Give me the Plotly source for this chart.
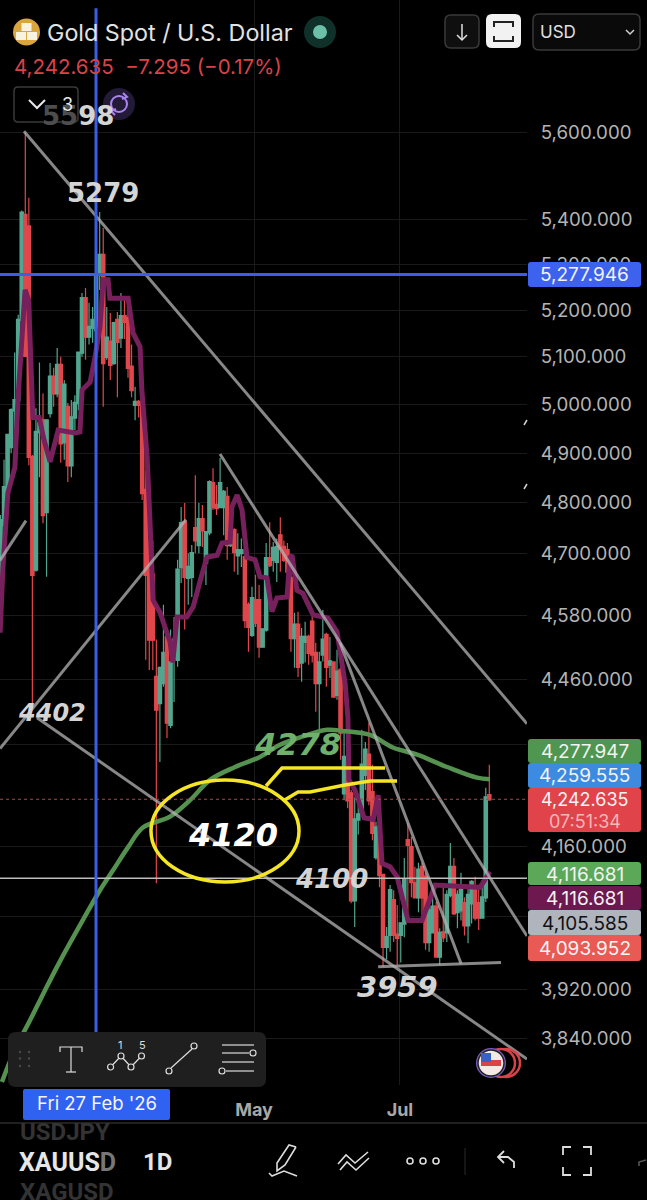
import plotly.graph_objects as go

# ---- chart data (prices) ----
opens = [4668,4755,4825,4912,4988,5009,5179,5410,5384,4892,4668,4943,4967,4781,4982,5058,5023,5083,4922,4995,
 4875,4973,5003,5109,5226,5143,5162,5157,5277,5321,5100,5132,5087,5179,5141,5187,5183,5079,4999,
 5005,4999,4825,4725,4658,4464,4416,4453,4539,4376,4500,4496,4673,4761,4652,4654,4749,4716,4767,4681,
 4741,4839,4795,4791,4791,4811,4716,4745,4696,4700,4692,4600,4543,4609,4609,4521,4553,4690,4687,4683,
 4735,4712,4706,4652,4537,4562,4491,4530,4539,4568,4509,4453,4506,4543,4487,4491,4431,4477,4253,4308,
 4253,4068,4207,4219,4286,4322,4255,4142,4195,4111,3990,4010,4068,4010,4010,4029,4171,4159,4097,4073,
 4125,4108,3998,4014,4057,3974,4014,4014,4077,4125,4048,4051,4063,4026,4063,4089,4063,4039,4073,4250]
highs = [4775,4886,4937,4992,5109,5190,5420,5598,5449,4896,4992,5088,5023,4967,5087,5077,5119,5100,5051,5003,
 5009,5019,5109,5237,5248,5216,5207,5321,5417,5381,5207,5194,5175,5196,5237,5222,5207,5126,5037,
 5009,5005,4865,4745,4725,4534,4483,4600,4543,4553,4577,4687,4791,4799,4700,4716,4855,4799,4795,4741,
 4845,4869,4835,4890,4825,4831,4771,4749,4739,4729,4700,4605,4635,4658,4638,4556,4720,4761,4722,4729,
 4771,4725,4720,4664,4585,4587,4556,4568,4543,4577,4528,4511,4590,4547,4539,4491,4515,4487,4362,4340,
 4259,4246,4245,4367,4345,4380,4304,4203,4250,4111,4023,4094,4085,4060,4029,4140,4201,4177,4125,4132,
 4132,4115,4057,4094,4065,4021,4094,4085,4166,4140,4085,4115,4073,4089,4102,4108,4094,4102,4263,4304]
lows = [4648,4745,4811,4900,4947,4999,5157,5100,4875,4402,4664,4851,4759,4654,4973,4995,5015,4880,4886,4841,
 4851,4947,4988,5100,5094,5126,5130,5126,5244,4995,5094,5051,5083,5015,5119,5138,5056,5015,4967,
 4973,4805,4496,4477,4477,4097,4309,4446,4352,4370,4418,4483,4642,4553,4600,4615,4700,4700,4712,4638,
 4735,4785,4775,4789,4735,4687,4712,4664,4658,4673,4556,4511,4539,4558,4500,4519,4549,4673,4664,4644,
 4664,4683,4644,4511,4481,4464,4455,4491,4487,4491,4400,4367,4493,4446,4462,4426,4422,4313,4241,4227,
 4063,4023,4181,4216,4259,4232,4171,4137,4090,3957,3969,3982,3998,3959,3964,4006,4039,4073,4073,4048,
 4043,3985,3982,4013,3973,3960,3998,3998,4073,4043,4021,4034,4009,3996,4029,4034,4018,4039,4065,4240]
closes = [4765,4831,4937,4988,5009,5179,5415,5102,4892,4658,4943,4961,4775,4967,5058,5023,5083,4920,5041,4875,
 4973,5003,5109,5226,5143,5164,5179,5277,5321,5087,5141,5083,5172,5132,5187,5175,5077,5030,5005,
 4999,4819,4658,4534,4534,4404,4481,4509,4380,4491,4534,4668,4759,4654,4673,4700,4725,4767,4745,4741,
 4841,4791,4789,4839,4821,4716,4745,4702,4706,4706,4571,4558,4613,4566,4521,4553,4690,4677,4710,4712,
 4710,4687,4664,4537,4562,4483,4539,4539,4509,4506,4453,4491,4534,4483,4493,4428,4474,4362,4318,4241,
 4068,4207,4216,4304,4331,4241,4184,4193,4111,3990,4006,4085,4010,4005,4029,4102,4163,4099,4073,4120,
 4073,3998,4051,4057,3974,4013,4006,4077,4125,4046,4077,4089,4026,4077,4099,4039,4039,4073,4246,4242.635]

kijun_x = [-0.1,0.7,2.1,4.1,5,6.1,7,8,9.2,11,12.4,14.1,15.5,16.4,21.2,22.6,23.2,25.5,26.9,28.3,29.2,30.6,31.1,36.3,37.7,
 39.7,40.2,41.7,42.5,43.4,45.4,48.2,49,50.2,53,54.8,56.7,58.7,61.6,63,65.3,65.8,67.3,68.7,70.1,72.4,73.8,75.8,77.2,78.6,
 81.5,82.3,82.9,84.3,86,88.9,93.1,95.7,98,98.8,99.1,100.8,103.4,106,107.4,108.5,110.8,112.8,115.9,119.9,123.6,136.4,139.2]
kijun_y = [4547,4673,4819,4871,5015,5157,5244,5222,4973,4973,4926,4882,4926,4947,4941,4943,5030,5047,5100,5164,5266,5266,5226,5226,5151,
 5121,5030,4892,4765,4609,4585,4530,4491,4577,4577,4596,4644,4692,4696,4720,4722,4791,4815,4785,4692,4687,4654,4652,4587,4613,
 4615,4692,4696,4628,4622,4581,4575,4549,4453,4390,4277,4259,4210,4207,4250,4131,4125,4108,4034,4034,4094,4090,4116.681]

ma_x = [0.4,4.1,8.4,12.7,16.9,22.6,28.3,32,36.3,40.5,48.2,53.9,59.6,66.7,73.8,79.5,86,92.9,97.4,105.1,111.6,118.5,127,135.5,139.2]
ma_y = [3772,3823,3870,3919,3966,4026,4085,4119,4159,4193,4212,4241,4277,4300,4318,4340,4355,4367,4365,4358,4335,4322,4300,4281,4277.947]

# hand drawn trend lines: (x0, x1, price0, price1)
trend_lines = [
    (6.68, 149.74, 5602, 4378),
    (62.43, 149.74, 4898, 4008),
    (96.56, 131.0, 4528, 3962),
    (107.4, 142.35, 3957, 3964),
    (10.38, 149.74, 4389, 3808),
    (-0.14, 52.76, 4333, 4766),
    (-0.14, 7.25, 4686, 4764),
]

y_tick_vals = [5600,5400,5300,5200,5100,5000,4900,4800,4700,4580,4460,4340,4160,4040,3920,3840]
y_tick_text = ["5,600.000","5,400.000","5,300.000","5,200.000","5,100.000","5,000.000","4,900.000","4,800.000",
               "4,700.000","4,580.000","4,460.000","","4,160.000","","3,920.000","3,840.000"]
x_tick_vals = [72.1, 113.6]
x_tick_text = ["May", "Jul"]

BAR_STEP = 1.0074
crosshair_x = 27.16
crosshair_price = 5277.946
last_price = 4242.635
flat_price = 4105.585

price_labels = [
    (739, 763, "4,277.947", "#4f9650", "#f2f2f2"),
    (763, 788, "4,259.555", "#3d8be0", "#f2f2f2"),
    (862, 885, "4,116.681", "#5aa858", "#f2f2f2"),
    (886, 910, "4,116.681", "#6e1850", "#f2f2f2"),
    (910, 935, "4,105.585", "#b0b4bd", "#111111"),
    (935, 961, "4,093.952", "#e95a55", "#f5f5f5"),
    (262, 287, "5,277.946", "#3d63ee", "#f2f2f2"),
]

X_RANGE = [-0.142, 149.74]
Y_RANGE = [3.57601, 3.77204]
W, H = 647, 1200
UI = "Inter, sans-serif"
BOLD = "DejaVu Sans, sans-serif"
UP, DOWN = "#52a58e", "#e0474c"

def px(x): return x / W
def py(y): return 1 - y / H

bar_x = [i * BAR_STEP for i in range(len(opens))]
body_hi = [max(o, c) for o, c in zip(opens, closes)]
body_lo = [min(o, c) for o, c in zip(opens, closes)]

fig = go.Figure()
fig.add_trace(go.Scatter(x=kijun_x, y=kijun_y, mode="lines", line=dict(color="#76205c", width=5), hoverinfo="skip"))
# wicks and thin bodies
fig.add_trace(go.Candlestick(
    x=bar_x, open=opens, high=highs, low=lows, close=closes, whiskerwidth=0,
    increasing=dict(line=dict(color=UP, width=1.2), fillcolor=UP),
    decreasing=dict(line=dict(color=DOWN, width=1.2), fillcolor=DOWN),
))
# same candles without wicks, stroked wider so the bodies reach the reference's width
fig.add_trace(go.Candlestick(
    x=bar_x, open=opens, high=body_hi, low=body_lo, close=closes, whiskerwidth=0,
    increasing=dict(line=dict(color=UP, width=2.4), fillcolor=UP),
    decreasing=dict(line=dict(color=DOWN, width=2.4), fillcolor=DOWN),
))
fig.add_trace(go.Scatter(x=ma_x, y=ma_y, mode="lines", line=dict(color="#56924f", width=4.5, shape="spline"), hoverinfo="skip"))
for x0, x1, p0, p1 in trend_lines:
    fig.add_trace(go.Scatter(x=[x0, x1], y=[p0, p1], mode="lines", line=dict(color="rgba(180,180,180,0.75)", width=3), hoverinfo="skip"))
fig.add_trace(go.Scatter(x=X_RANGE, y=[last_price]*2, mode="lines", line=dict(color="#a8454c", width=1, dash="dot"), hoverinfo="skip"))
fig.add_trace(go.Scatter(x=X_RANGE, y=[flat_price]*2, mode="lines", line=dict(color="#bdbdbd", width=1.5), hoverinfo="skip"))
fig.add_trace(go.Scatter(x=X_RANGE, y=[crosshair_price]*2, mode="lines", line=dict(color="#3a5fe6", width=3), hoverinfo="skip"))
fig.add_trace(go.Scatter(x=[crosshair_x]*2, y=[3768, 5896], mode="lines", line=dict(color="#3a5fe6", width=3), hoverinfo="skip"))

shapes, annos = [], []

def rrect(x0, y0, x1, y1, r=4, fill=None, line=None, lw=1):
    p = (f"M{px(x0+r)},{py(y0)} L{px(x1-r)},{py(y0)} Q{px(x1)},{py(y0)} {px(x1)},{py(y0+r)} "
         f"L{px(x1)},{py(y1-r)} Q{px(x1)},{py(y1)} {px(x1-r)},{py(y1)} L{px(x0+r)},{py(y1)} "
         f"Q{px(x0)},{py(y1)} {px(x0)},{py(y1-r)} L{px(x0)},{py(y0+r)} Q{px(x0)},{py(y0)} {px(x0+r)},{py(y0)} Z")
    shapes.append(dict(type="path", path=p, xref="paper", yref="paper", fillcolor=fill or "rgba(0,0,0,0)",
                       line=dict(color=line or "rgba(0,0,0,0)", width=lw), layer="above"))

def poly(points, color, lw=1.5):
    p = "M" + " L".join(f"{px(x)},{py(y)}" for x, y in points)
    shapes.append(dict(type="path", path=p, xref="paper", yref="paper", line=dict(color=color, width=lw), layer="above"))

def circ(cx, cy, rx, ry=None, fill=None, line=None, lw=1):
    ry = ry or rx
    shapes.append(dict(type="circle", xref="paper", yref="paper", x0=px(cx-rx), x1=px(cx+rx), y0=py(cy+ry), y1=py(cy-ry),
                       fillcolor=fill or "rgba(0,0,0,0)", line=dict(color=line or "rgba(0,0,0,0)", width=lw), layer="above"))

def text(x, y, s, size, color, family=UI, anchor="left"):
    annos.append(dict(x=px(x), y=py(y), xref="paper", yref="paper", text=s, showarrow=False, xanchor=anchor, yanchor="middle",
                      align=anchor, borderpad=0, font=dict(family=family, size=size, color=color)))

# price labels on the right
for y0, y1, s, bg, fg in price_labels:
    rrect(528, y0, 641, y1, r=3, fill=bg)
    text(584.5, (y0 + y1) / 2 + 0.5, s, 19, fg, anchor="center")
rrect(528, 788, 641, 832, r=3, fill="#e0434a")
text(584.5, 799, "4,242.635", 18, "#f5f5f5", anchor="center")
text(584.5, 821, "07:51:34", 18, "#f4b6b8", anchor="center")

# small marks on the right edge of the pane
poly([(524, 425), (527, 420)], "#d0d0d0", 1.5)
poly([(524, 489), (527, 484)], "#d0d0d0", 1.5)

# yellow drawing
circ(225, 831, 74, 51, line="#f4e526", lw=3.5)
poly([(266, 786), (282, 768), (385, 768)], "#f4e526", 3.5)
poly([(283, 801), (298, 792), (310, 792), (345, 785), (370, 781), (397, 781)], "#f4e526", 3.5)

# labels on the drawing
GR = "#d4d4d4"
text(78, 116, '<b><span style="color:#4d4d4d">55</span>98</b>', 26, GR, BOLD, "center")
text(103, 193, "<b>5279</b>", 26, GR, BOLD, "center")
text(52, 713, "<b><i>4402</i></b>", 24, GR, BOLD, "center")
text(297, 744, "<b><i>4278</i></b>", 31, "#6fb06c", BOLD, "center")
text(233, 835, "<b><i>4120</i></b>", 32, "#ffffff", BOLD, "center")
text(331, 879, "<b><i>4100</i></b>", 26, GR, BOLD, "center")
text(397, 987, "<b><i>3959</i></b>", 29, GR, BOLD, "center")

# header
circ(26.5, 32, 13.5, fill="#d9a53c")
for bx, by in [(26.5, 27), (21, 36), (32, 36)]:
    shapes.append(dict(type="rect", xref="paper", yref="paper", x0=px(bx-5), x1=px(bx+5), y0=py(by+4), y1=py(by-4),
                       fillcolor="#f8f2e0", line=dict(width=0), layer="above"))
text(46, 33, "Gold Spot / U.S. Dollar", 23.3, "#e2e2e2")
circ(320, 32, 16, fill="#10302a")
circ(320, 32, 7, fill="#6cc0a8")
text(13, 67, "4,242.635  \u22127.295 (\u22120.17%)", 20.5, "#d8434a")

rrect(445, 15, 479, 48, r=6, fill="#0f0f0f", line="#3a3a3a", lw=1.5)
poly([(462, 24), (462, 40)], "#e0e0e0", 1.5)
poly([(457, 35), (462, 40), (467, 35)], "#e0e0e0", 1.5)
rrect(486, 14, 521, 48, r=6, fill="#f2f2f2")
poly([(494, 27), (494, 22), (513, 22), (513, 27)], "#222222", 2)
poly([(494, 36), (494, 41), (513, 41), (513, 36)], "#222222", 2)
rrect(533, 14, 640, 50, r=6, fill="#0a0a0a", line="#3a3a3a", lw=1.5)
text(539, 32, "USD", 17, "#e0e0e0")
poly([(626, 30), (630, 34), (634, 30)], "#d0d0d0", 1.5)

rrect(14, 87, 78, 122, r=4, line="#3a3a3a", lw=1.5)
poly([(29, 100), (37, 108), (45, 100)], "#e8e8e8", 2)
text(61, 104, "3", 18, "#e8e8e8")
circ(119, 104, 16, fill="#231a38")
circ(119, 104, 8, line="#a884ee", lw=2)
poly([(123, 93), (127, 97), (122, 99)], "#a884ee", 2)
poly([(115, 115), (111, 111), (116, 109)], "#a884ee", 2)

# toolbar
rrect(8, 1032, 266, 1087, r=8, fill="#1f1f1f")
for dx in (20, 29):
    for dy in (1052, 1058.5, 1066):
        circ(dx, dy, 1.2, fill="#4a4a4a")
poly([(60, 1052), (60, 1047), (82, 1047), (82, 1052)], "#dddddd", 1.2)
poly([(71, 1047), (71, 1072)], "#dddddd", 1.2)
poly([(66, 1072), (76, 1072)], "#dddddd", 1.2)
poly([(110.6, 1067), (121, 1056), (131, 1067), (141.5, 1056)], "#dddddd", 1.2)
for cx, cy in [(110.6, 1067), (121, 1056), (131, 1067), (141.5, 1056), (169, 1071), (194, 1046), (253, 1053), (222, 1071)]:
    circ(cx, cy, 3, fill="#1f1f1f", line="#dddddd", lw=1.2)
text(120, 1045, "1", 11, "#dddddd", anchor="center")
text(142, 1045, "5", 11, "#dddddd", anchor="center")
poly([(171, 1068), (192, 1049)], "#dddddd", 1.2)
poly([(222, 1045), (254, 1045)], "#dddddd", 1.2)
poly([(222, 1053), (249, 1053)], "#dddddd", 1.2)
poly([(222, 1062), (254, 1062)], "#dddddd", 1.2)
poly([(226, 1071), (254, 1071)], "#dddddd", 1.2)

# flag badge
circ(506, 1063, 14, fill="#000000", line="#d8434a", lw=2.5)
circ(501, 1063, 14, fill="#000000", line="#d8434a", lw=2.5)
circ(491, 1063, 15, fill="#7c5cc4")
circ(491, 1063, 13, fill="#f2e9e9", line="#222222", lw=1.5)
shapes.append(dict(type="rect", xref="paper", yref="paper", x0=px(481), x1=px(501), y0=py(1066), y1=py(1060),
                   fillcolor="#d8434a", line=dict(width=0), layer="above"))
shapes.append(dict(type="rect", xref="paper", yref="paper", x0=px(481), x1=px(491), y0=py(1062), y1=py(1053),
                   fillcolor="#3a60c8", line=dict(width=0), layer="above"))

# crosshair date label
rrect(23, 1089, 170, 1120, r=2, fill="#2f62f0")
text(96.5, 1103, "Fri 27 Feb '26", 18.5, "#f5f5f5", anchor="center")

# bottom bar
poly([(0, 1123), (647, 1123)], "#2b2b2b", 1.5)
BB = "Roboto, sans-serif"
text(19, 1132, "<b>USDJPY</b>", 24, "#333333", BB)
text(18, 1162, '<b>XAUUS<span style="color:#777777">D</span></b>', 25, "#e6e6e6", BB)
text(19, 1192, "<b>XAGUSD</b>", 24, "#333333", BB)
text(142, 1162, "<b>1D</b>", 24, "#e6e6e6", BB)
# pen
poly([(296, 1147), (285, 1165), (277, 1171), (277, 1163), (289, 1145), (296, 1147)], "#dddddd", 1.6)
poly([(269, 1173), (272, 1176), (284, 1171), (297, 1176)], "#dddddd", 1.6)
# chevrons
poly([(338, 1164), (346, 1155), (355, 1163), (368, 1152)], "#dddddd", 1.6)
poly([(340, 1170), (347, 1162), (356, 1170), (369, 1158)], "#dddddd", 1.6)
for cx in (410, 423, 436):
    circ(cx, 1161, 3, line="#dddddd", lw=1.6)
poly([(465, 1148), (465, 1175)], "#2b2b2b", 1)
# undo
poly([(514, 1168), (514, 1162), (508, 1157), (498, 1157)], "#dddddd", 1.8)
poly([(504, 1151), (498, 1157), (504, 1163)], "#dddddd", 1.8)
# expand
for a, b, c in [((563, 1155), (563, 1147), (571, 1147)), ((583, 1147), (591, 1147), (591, 1155)),
                ((591, 1167), (591, 1175), (583, 1175)), ((571, 1175), (563, 1175), (563, 1167))]:
    poly([a, b, c], "#dddddd", 1.8)
poly([(639, 1166), (639, 1162), (646, 1160)], "#555555", 1.6)

fig.update_layout(
    width=W, height=H, margin=dict(l=0, r=0, t=0, b=0), autosize=False,
    paper_bgcolor="#000000", plot_bgcolor="#000000", showlegend=False, boxgap=0.12,
    shapes=shapes, annotations=annos, dragmode=False,
    xaxis=dict(domain=[0, 527 / W], range=X_RANGE, rangeslider=dict(visible=False), tickmode="array",
               tickvals=x_tick_vals, ticktext=[f"<b>{t}</b>" for t in x_tick_text],
               tickfont=dict(family=UI, size=18, color="#a8a8a8"), showgrid=True, gridcolor="#1a1a1a", gridwidth=1,
               ticks="outside", ticklen=8, tickcolor="rgba(0,0,0,0)", zeroline=False, showline=False),
    yaxis=dict(domain=[1 - 1085 / H, 1], type="log", range=Y_RANGE, side="right", tickmode="array",
               tickvals=y_tick_vals, ticktext=y_tick_text, tickfont=dict(family=UI, size=18.7, color="#b4b4b4"),
               showgrid=True, gridcolor="#1a1a1a", gridwidth=1, ticks="outside", ticklen=9,
               tickcolor="rgba(0,0,0,0)", zeroline=False, showline=False),
)

fig.write_html("out.html", config=dict(displayModeBar=False, responsive=False),
               post_script="document.body.style.margin='0';document.body.style.background='#000';")
